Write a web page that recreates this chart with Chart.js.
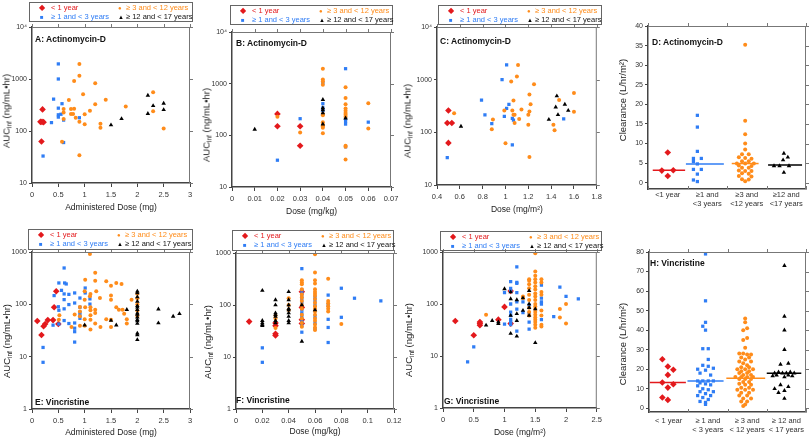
<!DOCTYPE html>
<html>
<head>
<meta charset="utf-8">
<script src="https://cdn.jsdelivr.net/npm/chart.js@4.4.0/dist/chart.umd.min.js"></script>
<style>
body{margin:0;background:#fff;width:810px;height:441px;position:relative;overflow:hidden;font-family:"Liberation Sans",Arial,sans-serif;}
canvas{position:absolute;}
.lg{position:absolute;border:1px solid #666;box-sizing:border-box;}
.lg span{position:absolute;font-size:7.5px;white-space:nowrap;line-height:10px;}
.yt{position:absolute;transform:translate(-50%,-50%) rotate(-90deg);font-size:9.5px;white-space:nowrap;color:#222;line-height:12px;}
.yt sub{font-size:6.5px;vertical-align:-2px;}
.pt{position:absolute;font-size:8.5px;font-weight:bold;color:#111;white-space:nowrap;line-height:10px;}
</style>
</head>
<body>
<script>
// groups
const GROUPS = ['< 1 year', '≥ 1 and < 3 years', '≥ 3 and < 12 years', '≥ 12 and < 17 years'];
const COLORS = ['#e3191c', '#2f7df5', '#ff8c1a', '#000000'];

// Actinomycin-D, AUC vs administered dose (mg)
const A_lt1 = [[0.2,260],[0.16,150],[0.19,150],[0.22,148],[0.18,63]];
const A_1to3 = [[0.5,1950],[0.5,1000],[0.41,410],[0.5,275],[0.57,335],[0.5,205],[0.5,185],[0.55,210],[0.6,162],[0.37,145],[0.9,180],[0.6,60],[0.21,33]];
const A_3to12 = [[0.9,1950],[0.9,1150],[0.8,920],[1.2,830],[0.97,510],[0.7,395],[1.4,400],[2.3,555],[1.2,326],[1.78,296],[0.6,265],[0.6,228],[0.74,265],[0.8,268],[1.1,245],[0.74,212],[0.78,212],[1.0,210],[2.3,240],[0.83,180],[0.6,170],[0.9,150],[1.0,135],[1.3,138],[1.3,115],[2.5,112],[0.57,62],[0.9,34]];
const A_12to17 = [[2.2,485],[2.5,340],[2.3,305],[2.5,256],[2.2,215],[1.7,172],[1.5,130]];

// Actinomycin-D, AUC vs dose (mg/kg)
const B_lt1 = [[0.02,260],[0.02,150],[0.03,150],[0.03,63]];
const B_1to3 = [[0.02,33],[0.03,210],[0.04,1050],[0.04,410],[0.04,340],[0.04,300],[0.05,1950],[0.05,210],[0.05,185],[0.05,165],[0.05,60],[0.06,180]];
const B_3to12 = [[0.02,230],[0.03,113],[0.04,1950],[0.04,1200],[0.04,1100],[0.04,950],[0.04,260],[0.04,245],[0.04,180],[0.04,160],[0.04,150],[0.04,140],[0.04,110],[0.05,850],[0.05,530],[0.05,400],[0.05,330],[0.05,300],[0.05,270],[0.05,250],[0.05,230],[0.05,63],[0.05,60],[0.05,34],[0.06,420],[0.06,135]];
const B_12to17 = [[0.01,130],[0.04,490],[0.04,340],[0.04,310],[0.04,270],[0.04,165],[0.05,215]];

// Actinomycin-D, AUC vs dose (mg/m2)
const C_lt1 = [[0.5,260],[0.49,150],[0.53,150],[0.5,63]];
const C_1to3 = [[0.49,33],[0.79,410],[0.82,215],[0.88,146],[0.97,1000],[1.01,1900],[1.01,285],[1.03,340],[0.99,200],[1.06,185],[1.07,170],[1.06,58],[1.51,180]];
const C_3to12 = [[0.55,230],[0.89,175],[0.88,115],[0.99,260],[1.0,62],[1.05,920],[1.11,1900],[1.1,1150],[1.25,820],[1.07,400],[1.06,260],[1.07,215],[1.08,215],[1.08,150],[1.14,270],[1.12,180],[1.21,520],[1.22,340],[1.21,250],[1.2,215],[1.2,140],[1.21,34],[1.42,140],[1.43,110],[1.47,410],[1.6,560],[1.6,245]];
const C_12to17 = [[0.61,130],[1.38,175],[1.45,490],[1.44,300],[1.46,215],[1.52,340],[1.55,260]];

// Actinomycin-D clearance by age group (x = group position)
const D_lt1 = [[0.5,7.7],[0.35,3.1],[0.64,3.2],[0.5,1.7]];
const D_1to3 = [[1.25,17.2],[1.25,14.2],[1.25,8.0],[1.15,6.2],[1.35,6.2],[1.15,5.4],[1.25,4.8],[1.15,3.4],[1.35,3.4],[1.25,2.2],[1.15,0.7],[1.25,0.3]];
const D_3to12 = [[2.46,35.2],[2.46,15.8],[2.46,12.4],[2.46,10.0],[2.46,8.5],[2.38,7.3],[2.55,7.3],[2.3,6.5],[2.46,6.3],[2.62,6.1],[2.38,5.5],[2.55,5.5],[2.25,4.9],[2.46,4.9],[2.68,4.9],[2.3,4.4],[2.62,4.3],[2.38,3.8],[2.55,3.8],[2.3,3.1],[2.46,3.0],[2.62,3.0],[2.38,2.4],[2.55,2.3],[2.3,1.7],[2.62,1.6],[2.38,0.9],[2.55,0.8],[2.46,0.4]];
const D_12to17 = [[3.44,7.5],[3.54,6.5],[3.42,5.8],[3.19,4.3],[3.33,4.3],[3.57,4.3],[3.44,2.6]];
const D_medians = [3.2, 4.8, 4.9, 4.5];

// Vincristine, AUC vs administered dose (mg)
const E_lt1 = [[0.1,48],[0.18,26],[0.22,38],[0.25,42],[0.3,50],[0.4,50],[0.42,88],[0.46,178],[0.5,42]];
const E_1to3 = [[0.21,15],[0.21,7.8],[0.42,147],[0.51,256],[0.56,185],[0.61,495],[0.62,256],[0.65,245],[0.51,77],[0.51,42],[0.61,158],[0.61,123],[0.61,82],[0.61,49],[0.7,155],[0.7,99],[0.7,43],[0.81,165],[0.81,106],[0.81,44],[0.81,35],[0.81,30],[0.81,19],[0.91,132],[0.91,88],[0.91,62],[0.91,54],[1.01,205],[1.01,165],[1.1,127],[1.1,101],[0.4,40],[0.91,70],[0.5,90]];
const E_3to12 = [[1.1,915],[1.2,400],[1.01,296],[1.2,283],[1.41,275],[1.6,256],[1.7,245],[1.5,227],[1.0,177],[1.11,158],[1.22,177],[1.1,142],[1.0,123],[1.29,132],[1.5,147],[1.5,123],[1.89,123],[1.6,88],[1.65,79],[1.72,79],[1.75,66],[1.8,52],[1.8,43],[1.41,52],[1.5,51],[1.3,37],[1.5,37],[1.2,43],[1.11,51],[1.0,52],[1.11,62],[1.11,77],[1.2,79],[1.2,68],[1.01,88],[1.11,88],[0.91,89],[0.81,64],[0.91,59],[0.91,73],[0.52,62],[1.0,39],[0.75,37],[0.91,39],[1.11,33],[0.51,51],[2.0,160],[2.0,130],[2.0,100],[2.0,75],[2.0,60]];
const E_12to17 = [[2,178],[2,165],[2,138],[2,114],[2,94],[2,88],[2,79],[2,68],[2,64],[2,57],[2,51],[2,48],[2,43],[2,28],[2,26],[2,21],[1.8,79],[1.5,49],[1.6,40],[1.0,40],[2.4,81],[2.4,44],[2.68,59],[2.8,66]];

// Vincristine, AUC vs dose (mg/kg)
const F_lt1 = [[0.01,48],[0.03,26],[0.03,28],[0.03,40],[0.03,45],[0.05,180],[0.05,90],[0.05,52],[0.05,44]];
const F_1to3 = [[0.02,15],[0.02,7.9],[0.05,500],[0.05,195],[0.05,170],[0.05,150],[0.05,130],[0.05,110],[0.05,80],[0.05,70],[0.05,60],[0.05,48],[0.05,40],[0.05,30],[0.06,140],[0.06,120],[0.06,100],[0.06,80],[0.06,60],[0.06,45],[0.06,35],[0.07,155],[0.07,100],[0.07,53],[0.07,37],[0.07,19],[0.08,210],[0.08,58],[0.09,135],[0.11,120]];
const F_3to12 = [[0.03,62],[0.03,55],[0.03,36],[0.04,135],[0.04,100],[0.04,80],[0.05,300],[0.05,270],[0.05,250],[0.05,200],[0.05,160],[0.05,140],[0.05,120],[0.05,100],[0.05,85],[0.05,65],[0.05,55],[0.05,45],[0.05,38],[0.06,950],[0.06,420],[0.06,300],[0.06,260],[0.06,200],[0.06,180],[0.06,165],[0.06,150],[0.06,130],[0.06,110],[0.06,95],[0.06,85],[0.06,75],[0.06,65],[0.06,55],[0.06,50],[0.06,42],[0.06,37],[0.06,33],[0.07,320],[0.07,120],[0.07,108],[0.07,95],[0.07,85],[0.07,75],[0.08,43]];
const F_12to17 = [[0.02,190],[0.02,50],[0.02,45],[0.02,42],[0.02,40],[0.03,125],[0.03,100],[0.03,70],[0.03,65],[0.03,60],[0.03,50],[0.03,45],[0.04,180],[0.04,125],[0.04,100],[0.04,85],[0.04,80],[0.04,70],[0.04,60],[0.04,50],[0.04,45],[0.05,100],[0.05,20],[0.06,80]];

// Vincristine, AUC vs dose (mg/m2)
const G_lt1 = [[0.2,47],[0.5,25],[0.6,45],[0.6,42],[0.6,39],[0.9,50],[1.0,88],[1.1,178],[1.1,42]];
const G_1to3 = [[0.4,7.7],[0.5,15],[1.0,165],[1.0,41],[1.1,270],[1.1,200],[1.1,175],[1.1,100],[1.1,70],[1.1,60],[1.1,50],[1.1,45],[1.1,40],[1.2,520],[1.2,260],[1.2,250],[1.2,165],[1.2,110],[1.2,80],[1.2,30],[1.3,110],[1.3,68],[1.4,95],[1.4,65],[1.4,45],[1.4,33],[1.6,230],[1.6,130],[1.6,110],[1.6,100],[1.6,50],[1.8,57],[1.9,210],[2.0,140],[2.2,125]];
const G_3to12 = [[0.7,62],[1.3,140],[1.3,130],[1.4,300],[1.4,280],[1.4,240],[1.4,200],[1.4,150],[1.4,120],[1.4,85],[1.4,70],[1.4,60],[1.5,950],[1.5,420],[1.5,350],[1.5,300],[1.5,260],[1.5,220],[1.5,190],[1.5,160],[1.5,140],[1.5,120],[1.5,100],[1.5,90],[1.5,80],[1.5,70],[1.5,62],[1.5,55],[1.5,50],[1.5,45],[1.5,40],[1.5,35],[1.6,300],[1.6,260],[1.6,170],[1.6,150],[1.6,75],[1.6,60],[1.6,40],[1.6,37],[1.9,80],[1.9,55],[2.0,100],[2.0,42]];
const G_12to17 = [[0.7,39],[0.8,48],[0.9,45],[0.9,42],[1.0,195],[1.1,170],[1.1,125],[1.1,60],[1.1,27],[1.2,120],[1.2,65],[1.2,48],[1.2,24],[1.3,130],[1.3,75],[1.4,180],[1.4,100],[1.4,85],[1.4,60],[1.5,80],[1.5,18]];

// Vincristine clearance by age group
const H_lt1 = [[0.34,25.1],[0.48,21.4],[0.62,19.7],[0.48,17.1],[0.34,13.2],[0.62,12.3],[0.48,10.6],[0.34,5.5],[0.48,4.3]];
const H_1to3 = [[1.44,79],[1.44,55],[1.44,44],[1.37,42],[1.44,40],[1.37,30.5],[1.51,30.5],[1.51,25],[1.37,22],[1.51,21.5],[1.24,20],[1.64,20.5],[1.44,19.5],[1.3,18],[1.57,17],[1.24,14],[1.37,14],[1.51,14],[1.64,14],[1.3,13],[1.44,12.5],[1.57,12],[1.24,11.5],[1.37,10],[1.51,9.5],[1.3,8.5],[1.64,8.5],[1.44,7.5],[1.24,6.5],[1.57,6.5],[1.37,5.5],[1.51,4.5],[1.3,3.5],[1.44,3],[1.44,2]];
const H_3to12 = [[2.45,46],[2.45,44],[2.5,41],[2.4,40],[2.5,36],[2.4,35],[2.45,31],[2.3,28],[2.4,28],[2.5,27.5],[2.6,27.5],[2.35,26],[2.55,26],[2.45,25],[2.3,24],[2.6,24],[2.4,23],[2.5,22],[2.35,21],[2.55,21],[2.25,20],[2.45,20],[2.65,20],[2.35,19],[2.55,19],[2.3,18],[2.5,18],[2.4,17],[2.6,17],[2.2,16],[2.35,16],[2.5,16],[2.65,16],[2.3,15],[2.45,15],[2.6,15],[2.4,13.5],[2.55,13.5],[2.3,12.5],[2.45,12],[2.6,12],[2.35,10.5],[2.55,10.5],[2.25,9.5],[2.45,9.5],[2.65,9.5],[2.35,8],[2.55,8],[2.3,6.5],[2.5,6.5],[2.4,5],[2.6,5],[2.35,3.5],[2.5,3.5],[2.45,2],[2.4,1.2]];
const H_12to17 = [[3.45,73],[3.45,47],[3.45,40],[3.45,30],[3.35,22.5],[3.55,23],[3.2,18],[3.3,18.5],[3.4,18],[3.5,18],[3.6,18.5],[3.7,18],[3.25,17],[3.55,17],[3.15,16.5],[3.45,16],[3.65,16.5],[3.35,12],[3.55,11],[3.2,10],[3.45,9],[3.3,8],[3.45,5]];
const H_medians = [13.2, 14.0, 15.4, 17.9];

// tick labels
const LOG_TICKS_ACT = [10, 100, 1000, 10000];
const LOG_TICKS_VIN = [1, 10, 100, 1000];
const XT_A = [0, 0.5, 1, 1.5, 2, 2.5, 3];
const XT_B = [0, 0.01, 0.02, 0.03, 0.04, 0.05, 0.06, 0.07];
const XT_C = [0.4, 0.6, 0.8, 1, 1.2, 1.4, 1.6, 1.8];
const XT_F = [0, 0.02, 0.04, 0.06, 0.08, 0.1, 0.12];
const XT_G = [0, 0.5, 1, 1.5, 2, 2.5];
const YT_D = [0, 5, 10, 15, 20, 25, 30, 35, 40];
const YT_H = [0, 10, 20, 30, 40, 50, 60, 70, 80];
const CAT_D = [['<1 year'], ['≥1 and', '<3 years'], ['≥3 and', '<12 years'], ['≥12 and', '<17 years']];
const CAT_H = [['< 1 year'], ['≥ 1 and', '< 3 years'], ['≥ 3 and', '< 12 years'], ['≥ 12 and', '< 17 years']];

const FONT = '"Liberation Sans", Arial, sans-serif';
const STYLES = [
  {pointStyle: 'rectRot', radius: 3.3},
  {pointStyle: 'rect', radius: 2.3},
  {pointStyle: 'circle', radius: 2},
  {pointStyle: 'triangle', radius: 2.6}
];

function fmt(v) { return String(+v.toFixed(3)); }

function makePanel(p) {
  const [bx, by, bw, bh] = p.box;
  const [L, T, R, B] = p.area;
  const cv = document.createElement('canvas');
  cv.width = bw; cv.height = bh;
  cv.style.left = bx + 'px'; cv.style.top = by + 'px';
  document.body.appendChild(cv);

  const datasets = p.series.map((s, i) => ({
    data: s.map(d => ({x: d[0], y: d[1]})),
    pointStyle: STYLES[i].pointStyle,
    pointRadius: STYLES[i].radius,
    backgroundColor: COLORS[i],
    borderColor: COLORS[i],
    borderWidth: 0,
    order: 4 - i
  }));
  if (p.medians) {
    p.medians.forEach((m, i) => {
      datasets.push({
        type: 'line',
        data: [{x: p.medX[i][0], y: m}, {x: p.medX[i][1], y: m}],
        borderColor: COLORS[i], borderWidth: 1.5, pointRadius: 0, order: -1
      });
    });
  }

  const frame = {
    id: 'frame',
    afterDraw(chart) {
      const {ctx, chartArea: a, scales} = chart;
      ctx.save();
      ctx.strokeStyle = '#777';
      ctx.lineWidth = 1;
      ctx.beginPath();
      ctx.moveTo(a.left, a.top + 0.5); ctx.lineTo(a.right, a.top + 0.5);
      ctx.moveTo(a.right - 0.5, a.top); ctx.lineTo(a.right - 0.5, a.bottom);
      scales.x.ticks.forEach(t => {
        if (p.cats && !Number.isInteger(t.value)) return;
        const x = Math.round(scales.x.getPixelForValue(t.value)) + 0.5;
        ctx.moveTo(x, a.top); ctx.lineTo(x, a.top - 3);
        if (p.cats) { ctx.moveTo(x, a.bottom); ctx.lineTo(x, a.bottom - 3); }
      });
      scales.y.ticks.forEach(t => {
        const y = Math.round(scales.y.getPixelForValue(t.value)) + 0.5;
        ctx.moveTo(a.right, y); ctx.lineTo(a.right + 3, y);
      });
      ctx.stroke();
      ctx.restore();
    }
  };

  const xScale = {
    type: 'linear', min: p.xMin, max: p.xMax,
    afterFit(s) { s.height = by + bh - B; },
    afterBuildTicks(s) { s.ticks = p.xTicks.map(v => ({value: v})); },
    ticks: {
      autoSkip: false, maxRotation: 0, minRotation: 0,
      font: {family: FONT, size: 7.5}, color: '#333', padding: p.cats ? p.catPad : 3,
      callback: p.cats ? (v => Number.isInteger(v) ? '' : p.cats[Math.floor(v)]) : fmt
    },
    grid: {drawOnChartArea: false, drawTicks: !p.cats, tickLength: 4, color: '#444'},
    border: {color: '#444', width: 1.5},
    title: p.xTitle ? {display: true, text: p.xTitle, font: {family: FONT, size: 8.5}, color: '#222', padding: 0} : {display: false}
  };
  const yScale = {
    type: p.log ? 'logarithmic' : 'linear', min: p.yMin, max: p.yMax,
    afterFit(s) { s.width = L - bx; },
    afterBuildTicks(s) { s.ticks = p.yTicks.map(v => ({value: v})); },
    ticks: {
      autoSkip: false, font: {family: FONT, size: 7}, color: '#333', padding: 2,
      callback: v => (v === 10000 ? '10⁴' : fmt(v))
    },
    grid: {drawOnChartArea: false, tickLength: 3, color: '#444'},
    border: {color: '#444', width: 1.5}
  };

  new Chart(cv, {
    type: 'scatter',
    data: {datasets},
    options: {
      responsive: false, animation: false, events: [],
      layout: {padding: {left: 0, top: T - by, right: bx + bw - R, bottom: 0}},
      plugins: {legend: {display: false}, tooltip: {enabled: false}},
      scales: {x: xScale, y: yScale}
    },
    plugins: [frame]
  });

  if (p.legend) addLegend(p.legend);
  addText('pt', p.title, p.titlePos[0], p.titlePos[1] - 5);
  const yt = addText('yt', '', p.yTitlePos[0], p.yTitlePos[1]);
  yt.innerHTML = p.yTitle;
}

function addText(cls, txt, x, y) {
  const d = document.createElement('div');
  d.className = cls; d.textContent = txt;
  d.style.left = x + 'px'; d.style.top = y + 'px';
  document.body.appendChild(d);
  return d;
}

function addLegend([x, y, w, h]) {
  const box = document.createElement('div');
  box.className = 'lg';
  Object.assign(box.style, {left: x + 'px', top: y + 'px', width: w + 'px', height: h + 'px'});
  const marks = [['◆', 8, 13, 5, 21], ['■', 6, 13, 14, 21], ['●', 6, 91, 5, 96], ['▲', 6, 91, 14, 96]];
  marks.forEach(([m, fs, mx, cy, tx], i) => {
    const s = document.createElement('span');
    s.textContent = m; s.style.color = COLORS[i]; s.style.fontSize = fs + 'px';
    s.style.left = (mx - fs / 2) + 'px'; s.style.top = (cy - 5) + 'px';
    box.appendChild(s);
    const t = document.createElement('span');
    t.textContent = GROUPS[i]; t.style.color = i === 3 ? '#111' : COLORS[i];
    t.style.left = tx + 'px'; t.style.top = (cy - 5) + 'px';
    box.appendChild(t);
  });
  document.body.appendChild(box);
}

const AUC = 'AUC<sub>inf</sub> (ng/mL•hr)';
const CL = 'Clearance (L/hr/m²)';

makePanel({box: [0, 0, 200, 213], area: [32, 27, 190, 183], series: [A_lt1, A_1to3, A_3to12, A_12to17],
  log: true, yMin: 10, yMax: 10000, yTicks: LOG_TICKS_ACT, xMin: 0, xMax: 3, xTicks: XT_A,
  xTitle: 'Administered Dose (mg)', legend: [29, 2, 164, 20], title: 'A: Actinomycin-D', titlePos: [35, 39],
  yTitle: AUC, yTitlePos: [8, 111]});
makePanel({box: [200, 0, 205, 217], area: [232, 32, 391, 187], series: [B_lt1, B_1to3, B_3to12, B_12to17],
  log: true, yMin: 10, yMax: 10000, yTicks: LOG_TICKS_ACT, xMin: 0, xMax: 0.07, xTicks: XT_B,
  xTitle: 'Dose (mg/kg)', legend: [230, 5, 163, 20], title: 'B: Actinomycin-D', titlePos: [236, 43],
  yTitle: AUC, yTitlePos: [208, 125]});
makePanel({box: [405, 0, 200, 215], area: [437, 27, 599, 185], series: [C_lt1, C_1to3, C_3to12, C_12to17],
  log: true, yMin: 10, yMax: 10000, yTicks: LOG_TICKS_ACT, xMin: 0.4, xMax: 1.8, xTicks: XT_C,
  xTitle: 'Dose (mg/m²)', legend: [438, 5, 164, 20], title: 'C: Actinomycin-D', titlePos: [440, 41],
  yTitle: AUC, yTitlePos: [409, 121]});
makePanel({box: [605, 0, 205, 215], area: [648, 26, 808, 189], series: [D_lt1, D_1to3, D_3to12, D_12to17],
  log: false, yMin: -1.6, yMax: 40, yTicks: YT_D, xMin: 0, xMax: 4, xTicks: [0, 0.5, 1, 1.5, 2, 2.5, 3, 3.5, 4],
  cats: CAT_D, catPad: 1, medians: D_medians, medX: [[0.12, 0.94], [0.96, 1.92], [2.12, 2.8], [3.04, 3.9]],
  title: 'D: Actinomycin-D', titlePos: [652, 42], yTitle: CL, yTitlePos: [623, 100]});

makePanel({box: [0, 220, 200, 218], area: [32, 252, 190, 409], series: [E_lt1, E_1to3, E_3to12, E_12to17],
  log: true, yMin: 1, yMax: 1000, yTicks: LOG_TICKS_VIN, xMin: 0, xMax: 3, xTicks: XT_A,
  xTitle: 'Administered Dose (mg)', legend: [28, 229, 165, 21], title: 'E: Vincristine', titlePos: [35, 402],
  yTitle: AUC, yTitlePos: [8, 341]});
makePanel({box: [200, 220, 205, 217], area: [236, 253, 394, 409], series: [F_lt1, F_1to3, F_3to12, F_12to17],
  log: true, yMin: 1, yMax: 1000, yTicks: LOG_TICKS_VIN, xMin: 0, xMax: 0.12, xTicks: XT_F,
  xTitle: 'Dose (mg/kg)', legend: [232, 230, 162, 21], title: 'F: Vincristine', titlePos: [236, 400],
  yTitle: AUC, yTitlePos: [209, 342]});
makePanel({box: [405, 220, 200, 218], area: [443, 252, 600, 408], series: [G_lt1, G_1to3, G_3to12, G_12to17],
  log: true, yMin: 1, yMax: 1000, yTicks: LOG_TICKS_VIN, xMin: 0, xMax: 2.5, xTicks: XT_G,
  xTitle: 'Dose (mg/m²)', legend: [440, 231, 162, 20], title: 'G: Vincristine', titlePos: [444, 401],
  yTitle: AUC, yTitlePos: [410, 340]});
makePanel({box: [605, 220, 205, 221], area: [649, 252, 808, 412], series: [H_lt1, H_1to3, H_3to12, H_12to17],
  log: false, yMin: -1.9, yMax: 80, yTicks: YT_H, xMin: 0, xMax: 4, xTicks: [0, 0.5, 1, 1.5, 2, 2.5, 3, 3.5, 4],
  cats: CAT_H, catPad: 4, medians: H_medians, medX: [[0.02, 0.94], [0.98, 1.9], [1.97, 2.96], [3.0, 3.88]],
  title: 'H: Vincristine', titlePos: [650, 263], yTitle: 'Clearance  (L/hr/m²)', yTitlePos: [623, 344]});
</script>
</body>
</html>
